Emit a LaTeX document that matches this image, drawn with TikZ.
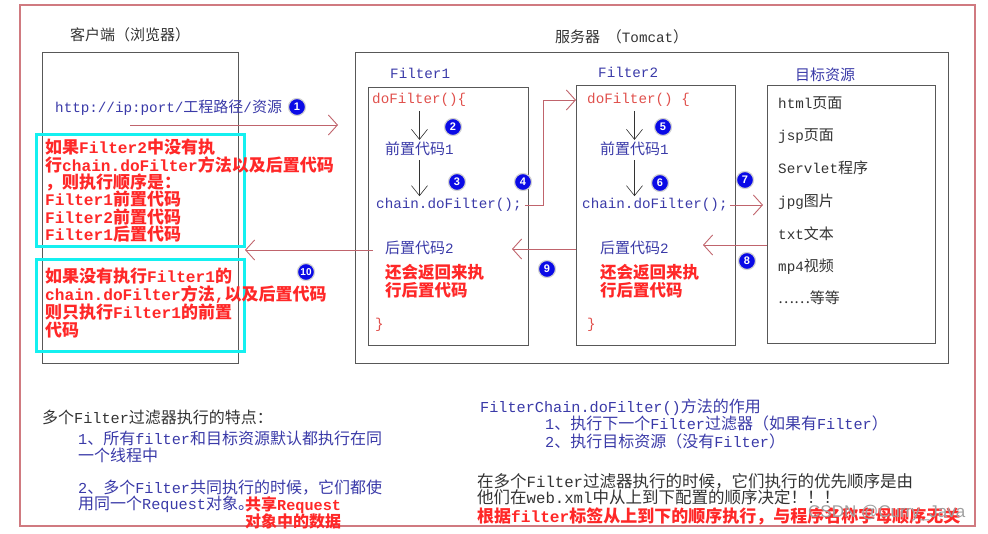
\documentclass[tikz,border=0pt]{standalone}
\usepackage{fontspec}
\setmainfont{Noto Sans CJK SC}
\newfontfamily\mono[Scale=0.95]{Liberation Mono}
\newfontfamily\wmfont{Liberation Sans}
\usetikzlibrary{arrows.meta, positioning}

\newcommand{\en}[1]{{\mono #1}}

\definecolor{framered}{HTML}{D07A80}
\definecolor{flowred}{HTML}{C0646C}
\definecolor{boxgray}{HTML}{585858}
\definecolor{notecyan}{HTML}{14F0F0}
\definecolor{codeblue}{HTML}{3A3AA8}
\definecolor{codered}{HTML}{E0504C}
\definecolor{notered}{HTML}{FF2828}
\definecolor{darktext}{HTML}{333333}
\definecolor{numblue}{HTML}{0A0AE6}

\tikzset{
  box/.style={draw=boxgray, line width=0.9pt, inner sep=0pt, outer sep=0pt, anchor=north west},
  notebox/.style={draw=notecyan, line width=2.6pt, inner sep=0pt, anchor=north west},
  txt/.style={inner sep=0pt, anchor=west, font=\fontsize{15}{18}\selectfont},
  big/.style={font=\fontsize{16}{18}\selectfont},
  lbl/.style={txt, text=codeblue},
  code/.style={txt, text=codered},
  res/.style={txt, text=darktext},
  note/.style={inner sep=0pt, anchor=north west, align=left, text=notered, font=\bfseries\fontsize{17}{17.4}\selectfont},
  num/.style={circle, fill=numblue, draw=gray!35, line width=1.2pt, text=white, inner sep=0pt, minimum size=17pt, font=\wmfont\bfseries\fontsize{11}{11}\selectfont},
  flow/.style={draw=flowred, line width=0.9pt, -{Straight Barb[length=9pt,width=20pt]}},
  down/.style={draw=black!80, line width=0.6pt, -{Straight Barb[length=10pt,width=16pt]}, shorten <=4pt, shorten >=2pt},
}

\begin{document}
\begin{tikzpicture}[x=1pt, y=-1pt]
  \useasboundingbox (0,0) rectangle (988,534);
  \draw[framered, line width=2pt] (20,5) rectangle (975,526);

  % client side
  \node[res] (clienttitle) at (70,35) {客户端（浏览器）};
  \node[box, minimum width=196pt, minimum height=311pt] (client) at (42,52) {};
  \node[lbl] (url) at (55,108) {\en{http://ip:port/}工程路径\en{/}资源};
  \node[num] (n1) at (297,107) {1};
  \node[notebox, minimum width=208pt, minimum height=112pt] (note1) at (35,133) {};
  \node[note] (note1txt) at (45,139) {如果\en{Filter2}中没有执\\行\en{chain.doFilter}方法以及后置代码\\，则执行顺序是：\\\en{Filter1}前置代码\\\en{Filter2}前置代码\\\en{Filter1}后置代码};
  \node[notebox, minimum width=208pt, minimum height=92pt] (note2) at (35,258) {};
  \node[note, font=\bfseries\fontsize{17}{18}\selectfont] (note2txt) at (45,268) {如果没有执行\en{Filter1}的\\\en{chain.doFilter}方法\en{,}以及后置代码\\则只执行\en{Filter1}的前置\\代码};

  \coordinate (reqstart) at (130,125);
  \coordinate (reqend) at (338,125);
  \draw[flow] (reqstart) -- (reqend);

  % server side
  \node[res] (servertitle) at (555,37) {服务器\ \ （\en{Tomcat}）};
  \node[box, minimum width=593pt, minimum height=311pt] (server) at (355,52) {};

  % Filter1
  \node[lbl] (f1label) at (390,73) {\en{Filter1}};
  \node[box, minimum width=160pt, minimum height=258pt] (f1box) at (368,87) {};
  \node[code] (dofilter1) at (372,100) {\en{doFilter()\{}};
  \node[lbl] (pre1) at (385,149) {前置代码\en{1}};
  \node[lbl] (chain1) at (376,205) {\en{chain.doFilter();}};
  \node[lbl] (post1) at (385,248) {后置代码\en{2}};
  \node[note, font=\bfseries\fontsize{16.5}{18}\selectfont] (back1) at (385,264) {还会返回来执\\行后置代码};
  \node[code] (close1) at (375,325) {\en{\}}};
  \draw[down] (dofilter1.south -| pre1.north) -- (pre1.north);
  \draw[down] (pre1.south) -- (chain1.north -| pre1.south);
  \node[num] (n2) at (453,127) {2};
  \node[num] (n3) at (457,182) {3};

  % Filter2
  \node[lbl] (f2label) at (598,72) {\en{Filter2}};
  \node[box, minimum width=159pt, minimum height=260pt] (f2box) at (576,85) {};
  \node[code] (dofilter2) at (587,100) {\en{doFilter() \{}};
  \node[lbl] (pre2) at (600,149) {前置代码\en{1}};
  \node[lbl] (chain2) at (582,205) {\en{chain.doFilter();}};
  \node[lbl] (post2) at (600,248) {后置代码\en{2}};
  \node[note, font=\bfseries\fontsize{16.5}{18}\selectfont] (back2) at (600,264) {还会返回来执\\行后置代码};
  \node[code] (close2) at (587,325) {\en{\}}};
  \draw[down] (dofilter2.south -| pre2.north) -- (pre2.north);
  \draw[down] (pre2.south) -- (chain2.north -| pre2.south);
  \node[num] (n5) at (663,127) {5};
  \node[num] (n6) at (660,183) {6};

  % target resources
  \node[lbl] (targetlabel) at (795,75) {目标资源};
  \node[box, minimum width=168pt, minimum height=258pt] (target) at (767,85) {};
  \node[res] (html) at (778,103) {\en{html}页面};
  \node[res] (jsp) at (778,136) {\en{jsp}页面};
  \node[res] (servlet) at (778,168) {\en{Servlet}程序};
  \node[res] (jpg) at (778,202) {\en{jpg}图片};
  \node[res] (txt) at (778,234) {\en{txt}文本};
  \node[res] (mp4) at (778,267) {\en{mp4}视频};
  \node[res] (etc) at (778,298) {……等等};

  % call chain
  \coordinate (up4) at (543,207);
  \draw[flow, shorten <=3pt] (chain1.east) -| (up4 |- dofilter2.west) -- (f2box.west |- dofilter2.west);
  \node[num] (n4) at (523,182) {4};
  \draw[flow, shorten <=2pt, shorten >=4pt] (chain2.east) -- (target.west |- chain2.east);
  \node[num] (n7) at (745,180) {7};
  \coordinate (ret8) at (703,245);
  \draw[flow] (target.west |- ret8) -- (ret8);
  \node[num] (n8) at (747,261) {8};
  \coordinate (ret9) at (512,249);
  \draw[flow] (f2box.west |- ret9) -- (ret9);
  \node[num] (n9) at (547,269) {9};
  \coordinate (ret10) at (245,250);
  \draw[flow, shorten <=12pt] (post1.west |- ret10) -- (ret10);
  \node[num, font=\wmfont\bfseries\fontsize{10}{10}\selectfont] (n10) at (306,272) {10};

  % notes below
  \node[res, big] (feat) at (42,417) {多个\en{Filter}过滤器执行的特点：};
  \node[lbl, big] (feat1) at (78,438) {\en{1}、所有\en{filter}和目标资源默认都执行在同};
  \node[lbl, big] (feat1b) at (78,455) {一个线程中};
  \node[lbl, big] (feat2) at (78,488) {\en{2}、多个\en{Filter}共同执行的时候，它们都使};
  \node[lbl, big] (feat2b) at (78,504) {用同一个\en{Request}对象。};
  \node[note, font=\bfseries\fontsize{16}{16}\selectfont] (share) at (245,496) {共享\en{Request}\\对象中的数据};

  \node[lbl, big] (chainrole) at (480,407) {\en{FilterChain.doFilter()}方法的作用};
  \node[lbl, big] (role1) at (545,423) {\en{1}、执行下一个\en{Filter}过滤器（如果有\en{Filter}）};
  \node[lbl, big] (role2) at (545,441) {\en{2}、执行目标资源（没有\en{Filter}）};
  \node[res, font=\fontsize{16.5}{18}\selectfont] (order1) at (477,481) {在多个\en{Filter}过滤器执行的时候，它们执行的优先顺序是由};
  \node[res, font=\fontsize{16.5}{18}\selectfont] (order2) at (477,497) {他们在\en{web.xml}中从上到下配置的顺序决定！！！};
  \node[note, anchor=west] (order3) at (477,516) {根据\en{filter}标签从上到下的顺序执行，与程序名称字母顺序无关};
  \node[inner sep=0pt, anchor=west, text=gray!75, font=\wmfont\fontsize{17}{17}\selectfont] (watermark) at (808,513) {CSDN @Curry\_Java};
\end{tikzpicture}
\end{document}
